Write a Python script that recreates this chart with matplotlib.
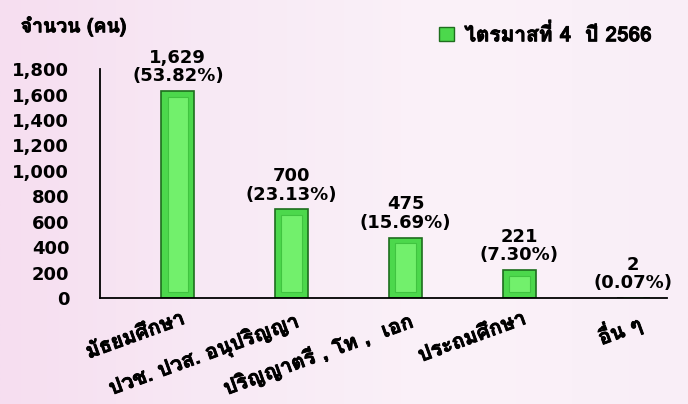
import numpy as np
import matplotlib
matplotlib.use("Agg")
import matplotlib.pyplot as plt
import matplotlib.transforms as mtransforms
import matplotlib.patheffects as pe
from matplotlib import font_manager
from matplotlib.ft2font import FT2Font
from matplotlib.patches import Patch
from matplotlib.colors import LinearSegmentedColormap

# datos
categorias = ["มัธยมศึกษา", "ปวช. ปวส. อนุปริญญา", "ปริญญาตรี , โท ,  เอก",
              "ประถมศึกษา", "อื่น ๆ"]
valores = [1629, 700, 475, 221, 2]
porcentajes = ["53.82%", "23.13%", "15.69%", "7.30%", "0.07%"]
yticks = [0, 200, 400, 600, 800, 1000, 1200, 1400, 1600, 1800]
serie = "ไตรมาสที่ 4  ปี 2566"
titulo_y = "จำนวน (คน)"


# buscar una fuente con letras thai (mejor si tiene negrita)
def fuente_thai():
    nombres = {}
    for f in font_manager.fontManager.ttflist:
        try:
            if 0x0E01 in FT2Font(f.fname).get_charmap():
                nombres.setdefault(f.name, set()).add(f.weight)
        except Exception:
            pass
    for n, pesos in nombres.items():
        if any(p in ("bold", 700, "semibold", 600, "heavy", 800) for p in pesos):
            return n
    if nombres:
        return list(nombres)[0]
    return "DejaVu Sans"


thai = fuente_thai()
plt.rcParams["font.family"] = [thai, "DejaVu Sans"]
plt.rcParams["font.weight"] = "bold"
negrita = [pe.withStroke(linewidth=0.6, foreground="black")]

fig = plt.figure(figsize=(6.88, 4.04), dpi=100)

# fondo rosado
fondo = fig.add_axes([0, 0, 1, 1], zorder=-10)
cmap = LinearSegmentedColormap.from_list("rosa", ["#f6def0", "#f8eaf5", "#fbf2f9", "#f9eef7"])
grad = np.linspace(0, 1, 256).reshape(1, -1)
fondo.imshow(grad, aspect="auto", cmap=cmap, extent=[0, 1, 0, 1])
fondo.axis("off")

ax = fig.add_axes([0.145, 0.262, 0.825, 0.567])
ax.patch.set_alpha(0)

x = np.arange(len(valores))
v = np.array(valores, dtype=float)
ancho = 0.29

# barra con efecto bisel
ax.bar(x, v, width=ancho, color="#4cd84c", edgecolor="#1e6e1e", linewidth=1.2, zorder=2)
borde = np.minimum(45, v / 4)
ax.bar(x, v - 2 * borde, bottom=borde, width=ancho * 0.62, color="#72f06c",
       edgecolor="#40c440", linewidth=0.8, zorder=3)

for i in range(len(valores)):
    ax.annotate(f"{valores[i]:,}\n({porcentajes[i]})", (x[i], v[i]),
                xytext=(0, 4), textcoords="offset points", ha="center", va="bottom",
                fontsize=13, fontweight="bold", linespacing=1.05,
                family="DejaVu Sans")

ax.set_xlim(-0.686, 4.3)
ax.set_ylim(0, 1800)
ax.set_yticks(yticks)
ax.set_yticklabels([f"{t:,}" for t in yticks], fontsize=13, fontweight="bold",
                   family="DejaVu Sans")
ax.tick_params(axis="y", length=0, pad=22)

ax.set_xticks(x)
ax.set_xticklabels(categorias, rotation=20, ha="right", rotation_mode="anchor",
                   fontsize=15, fontweight="bold")
ax.tick_params(axis="x", length=0, pad=8)
desplaza = mtransforms.ScaledTranslation(2 / 72, 0, fig.dpi_scale_trans)
for lab in ax.get_xticklabels():
    lab.set_transform(lab.get_transform() + desplaza)
    lab.set_path_effects(negrita)

for s in ["top", "right"]:
    ax.spines[s].set_visible(False)
ax.spines["left"].set_linewidth(1.3)
ax.spines["bottom"].set_linewidth(1.3)

fig.text(0.03, 0.935, titulo_y, fontsize=14, fontweight="bold", va="center",
         path_effects=negrita)

leg = ax.legend(handles=[Patch(facecolor="#4cd84c", edgecolor="#1e6e1e", label=serie)],
                loc="center right", bbox_to_anchor=(0.975, 0.915),
                bbox_transform=fig.transFigure, frameon=False, handlelength=0.7,
                handleheight=0.7, handletextpad=0.5, prop={"size": 15, "weight": "bold"})
for t in leg.get_texts():
    t.set_path_effects(negrita)

fig.savefig("out.png", dpi=100)
